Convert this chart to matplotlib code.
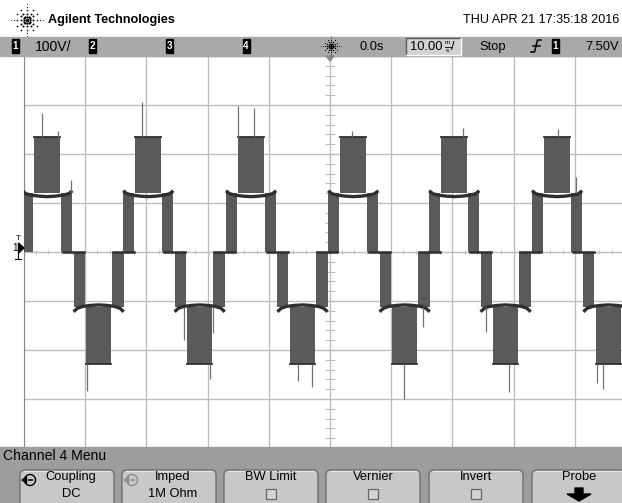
import numpy as np
import matplotlib
matplotlib.use("Agg")
import matplotlib.pyplot as plt
from matplotlib import font_manager
from matplotlib.patches import Rectangle, FancyBboxPatch, Polygon, Circle

# === DATA ===
# 100 V/div, 10 ms/div, trigger at t = 0
# start of each positive half cycle (the 0 -> +1 step), ms
period_start_ms = [-50.3, -33.8, -17.0, -0.3, 16.2, 33.0]

# PWM bands inside one cycle: ms from cycle start, and the two levels (V) switched between
band_start_ms = [0.0, 2.0, 6.4, 8.4, 10.4, 14.7]
band_end_ms = [1.8, 6.2, 8.2, 10.2, 14.5, 16.6]
band_low_v = [0, 120, 0, -112, -228, -112]
band_high_v = [120, 235, 120, 0, -112, 0]

# sagging +1 / -1 step levels (ms from cycle start, V)
pos_level_t = [0.0, 0.6, 1.5, 2.8, 4.1, 5.4, 6.7, 7.6, 8.2]
pos_level_v = [125, 119, 116, 114, 113, 114, 116, 119, 125]
neg_level_t = [8.4, 9.0, 9.9, 11.2, 12.5, 13.8, 15.1, 16.0, 16.6]
neg_level_v = [-122, -115, -111, -109, -108, -109, -111, -115, -122]
zero_level_t0 = [6.7, 14.8]
zero_level_t1 = [10.1, 18.2]

# the larger switching spikes (absolute ms, V)
spike_t_ms = [-47.1, -44.4, -30.8, -15.0, -12.4, 3.6, 21.7, 37.2, -42.3, 40.2,
              -39.7, -19.6, -23.9, -19.1, -2.9, -5.2, 12.1, 15.2, 29.2, 25.5, 43.6, 44.6]
spike_base_v = [235, 235, 235, 235, 235, 235, 235, 235, 120, 120,
                -228, -228, -112, -112, -228, -228, -228, -112, -228, -112, -228, -228]
spike_tip_v = [284, 246, 307, 297, 294, 246, 253, 251, 146, 153,
               -284, -260, -179, -165, -276, -264, -301, -153, -285, -163, -267, -279]

header_title = "Agilent Technologies"
header_date = "THU APR 21 17:35:18 2016"
menu_title = "Channel 4 Menu"
button_top = ["Coupling", "Imped", "BW Limit", "Vernier", "Invert", "Probe"]
button_bottom = ["DC", "1M Ohm", "", "", "", ""]
button_kind = ["knob", "knob_off", "check", "check", "check", "arrow"]

# === STYLE ===
W, H = 622, 503
PX_PER_MS = 6.12
WAVE = "#5a5a5a"
EDGE = "#2f2f2f"
GRID = "#bdbdbd"
BAR = "#a9a9a9"
MENU = "#9d9d9d"
BTN = "#c8c8c8"

names = {f.name for f in font_manager.fontManager.ttflist}
if "Liberation Sans Narrow" in names:
    FONT, FS = "Liberation Sans Narrow", 1.0
else:
    FONT, FS = "Liberation Sans", 0.84
plt.rcParams["font.family"] = [FONT, "DejaVu Sans"]

fig = plt.figure(figsize=(W / 100, H / 100), dpi=100)
fig.patch.set_facecolor("white")

# --- waveform area ---
ax = fig.add_axes([24 / W, (H - 448) / H, (W - 24) / W, 392 / H])
ax.set_facecolor("white")
x_left = -50.0
ax.set_xlim(x_left, x_left + (W - 24) / PX_PER_MS)
ax.set_ylim(-400, 400)
ax.set_xticks(np.arange(-50, 41, 10))
ax.set_yticks(np.arange(-400, 401, 100))
ax.tick_params(length=0, labelbottom=False, labelleft=False)
ax.grid(True, color=GRID, lw=1.0)
ax.set_axisbelow(True)
for side in ("top", "right", "bottom"):
    ax.spines[side].set_visible(False)
ax.spines["left"].set_color("#8a8a8a")

# minor marks on the centre lines
ax.vlines(np.arange(-50, 48, 2), -5, 5, color=GRID, lw=0.8)
ax.hlines(np.arange(-400, 401, 20), -0.8, 0.8, color=GRID, lw=0.8)

for ps in period_start_ms:
    for s, e, lo, hi in zip(band_start_ms, band_end_ms, band_low_v, band_high_v):
        ax.fill_between([ps + s, ps + e], lo, hi, color=WAVE, lw=0, zorder=3)
        if abs(hi) > 200 or abs(lo) > 200:
            edge_v = hi if hi > 200 else lo
            ax.plot([ps + s, ps + e], [edge_v, edge_v], color=EDGE, lw=1.3, zorder=4)
    ax.plot(ps + np.array(pos_level_t), pos_level_v, color=EDGE, lw=2.4, zorder=4,
            solid_capstyle="butt")
    ax.plot(ps + np.array(neg_level_t), neg_level_v, color=EDGE, lw=2.4, zorder=4,
            solid_capstyle="butt")
    for t0, t1 in zip(zero_level_t0, zero_level_t1):
        ax.plot([ps + t0, ps + t1], [0, 0], color=EDGE, lw=1.8, zorder=4)

ax.vlines(spike_t_ms, spike_base_v, spike_tip_v, color="#727272", lw=0.9, zorder=4)

# --- screen furniture, pixel coordinates ---
ui = fig.add_axes([0, 0, 1, 1], zorder=5)
ui.set_xlim(0, W)
ui.set_ylim(H, 0)
ui.axis("off")
ui.patch.set_visible(False)


def txt(x, y, s, size, ha="left", color="black", weight="normal"):
    ui.text(x, y, s, fontsize=size * FS, ha=ha, va="center", color=color,
            fontweight=weight)


def sparkle(cx, cy, r, dot):
    # dotted starburst: long horizontal/vertical rays, shorter diagonals
    ui.plot([cx], [cy], "o", ms=dot * 1.3, color="black", mec="none")
    for k in range(12):
        ang = k * np.pi / 6
        long_ray = k % 3 == 0
        n = 5 if long_ray else 3
        reach = r if long_ray else r * 0.7
        for j in range(1, n + 1):
            rr = reach * j / n
            ui.plot([cx + rr * np.cos(ang)], [cy + rr * np.sin(ang)], "o",
                    ms=dot * (1.0 - 0.13 * j), color="black", mec="none")


def chan_box(x, label):
    ui.add_patch(Rectangle((x, 38.5), 7, 14, color="black"))
    txt(x + 3.6, 46, label, 8.5, ha="center", color="white", weight="bold")


# header
sparkle(27, 20, 16, 1.9)
txt(48, 20, header_title, 10.8, weight="bold")
txt(619, 20, header_date, 10.8, ha="right")

# status bar
ui.add_patch(Rectangle((0, 37), W, 19, color=BAR))
chan_box(12, "1")
txt(35, 46.5, "100V/", 12)
chan_box(88.5, "2")
chan_box(165.5, "3")
chan_box(242.5, "4")
sparkle(331, 46, 10, 1.4)
txt(360, 46.5, "0.0s", 11)
ui.add_patch(Rectangle((406, 38), 55, 17, facecolor="#d2d2d2", edgecolor="none"))
ui.plot([406, 406, 461], [55, 38, 38], color="#5a5a5a", lw=1)
ui.plot([406, 461, 461], [55, 55, 38], color="white", lw=1)
txt(410, 46.5, "10.00", 11)
txt(447.5, 42.5, "m", 5.5, ha="center")
ui.plot([444.5, 450.5], [46.5, 46.5], color="black", lw=0.6)
txt(447.5, 50.5, "s", 5.5, ha="center")
txt(451, 46.5, "/", 11)
txt(479, 46.5, "Stop", 11)
ui.plot([531, 534.5, 537.5, 541], [52, 52, 40, 40], color="black", lw=1.1)
ui.plot([533, 539.5], [46, 46], color="black", lw=1.1)
chan_box(551.5, "1")
txt(619, 46.5, "7.50V", 11, ha="right")

# trigger-position marker and ground / trigger-level markers
ui.add_patch(Polygon([[326, 56], [334, 56], [330, 61]], color="#8a8a8a"))
txt(18, 238, "T", 7, ha="center")
txt(15, 248, "1", 8.5, ha="center")
ui.add_patch(Polygon([[18.5, 243], [18.5, 253], [24, 248]], color="black"))
ui.plot([18, 18], [253, 258], color="black", lw=0.8)
ui.plot([15, 21], [258.5, 258.5], color="black", lw=0.8)

# bottom menu
ui.add_patch(Rectangle((0, 447), W, H - 447, color=MENU))
txt(3, 456, menu_title, 12)
btn_left = [20, 122, 224, 326, 429, 532]
for i, (top, bot, kind) in enumerate(zip(button_top, button_bottom, button_kind)):
    x0 = btn_left[i]
    cx = x0 + 47
    ui.add_patch(FancyBboxPatch((x0, 470), 94, 45,
                                boxstyle="round,pad=0,rounding_size=5",
                                facecolor=BTN, edgecolor="#6f6f6f", lw=1.0))
    ui.plot([x0 + 4, x0 + 90], [471.3, 471.3], color="#e6e6e6", lw=0.8)
    if kind.startswith("knob"):
        col = "black" if kind == "knob" else "#8c8c8c"
        ui.add_patch(Circle((x0 + 10, 480), 5.5, fill=False, edgecolor=col, lw=1.0))
        ui.add_patch(Polygon([[x0 + 2, 480], [x0 + 6.5, 477], [x0 + 6.5, 483]], color=col))
        ui.plot([x0 + 8.5, x0 + 11.5], [480, 480], color=col, lw=1.2)
        txt(cx + 4, 477, top, 11, ha="center")
        txt(cx + 4, 494, bot, 11, ha="center")
    else:
        txt(cx, 477, top, 11, ha="center")
    if kind == "check":
        ui.add_patch(Rectangle((cx - 5, 489), 10, 10, facecolor="#d4d4d4",
                               edgecolor="#666666", lw=0.9))
    if kind == "arrow":
        ui.add_patch(Polygon([[cx - 4, 488], [cx + 4, 488], [cx + 4, 494], [cx + 12, 494],
                              [cx, 501], [cx - 12, 494], [cx - 4, 494]], color="black"))

fig.savefig("out.png", dpi=100)
